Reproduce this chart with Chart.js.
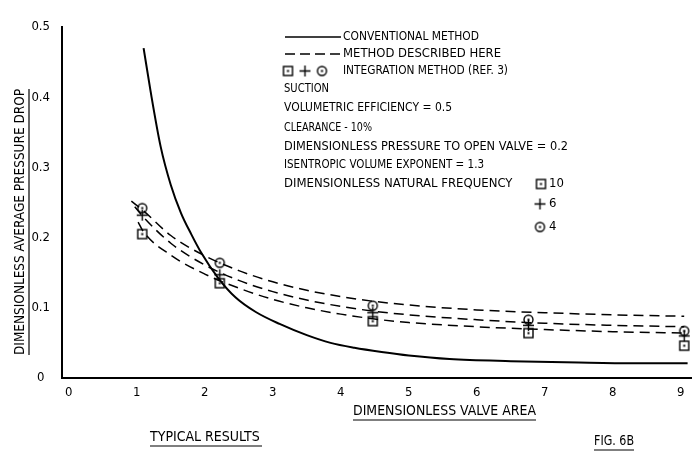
<!DOCTYPE html>
<html>
<head>
<meta charset="utf-8">
<script src="https://cdn.jsdelivr.net/npm/chart.js@4"></script>
<style>
  html, body { margin: 0; padding: 0; background: #fff; }
</style>
</head>
<body>
<canvas id="chart" width="698" height="462"></canvas>
<script>
// ------------------------
// Data
// ------------------------

const xTicks = [0, 1, 2, 3, 4, 5, 6, 7, 8, 9];
const yTicks = [0, 0.1, 0.2, 0.3, 0.4, 0.5];
const yTickLabels = ["0", "0.1", "0.2", "0.3", "0.4", "0.5"];

// conventional method (solid)
const convX = [1.10, 1.20, 1.35, 1.50, 1.65, 1.80, 1.95, 2.20, 2.45, 2.75, 3.10, 3.50, 3.85, 4.20, 4.60, 5.00, 5.60, 6.50, 7.50, 8.30, 9.10];
const convY = [0.470, 0.410, 0.330, 0.275, 0.235, 0.205, 0.178, 0.142, 0.115, 0.094, 0.077, 0.061, 0.050, 0.043, 0.037, 0.032, 0.027, 0.024, 0.022, 0.021, 0.021];

// method described here (dashed), one curve per natural frequency
const dashX4 = [0.92, 1.1, 1.5, 2, 2.5, 3, 3.5, 4, 4.5, 5, 6, 7, 8, 9.05];
const dashY4 = [0.252, 0.238, 0.203, 0.174, 0.153, 0.137, 0.125, 0.116, 0.109, 0.104, 0.097, 0.093, 0.090, 0.088];
const dashX6 = [0.97, 1.1, 1.5, 2, 2.5, 3, 3.5, 4, 4.5, 5, 6, 7, 8, 9.05];
const dashY6 = [0.244, 0.229, 0.192, 0.161, 0.139, 0.123, 0.111, 0.102, 0.095, 0.090, 0.083, 0.078, 0.075, 0.073];
const dashX10 = [1.02, 1.1, 1.5, 2, 2.5, 3, 3.5, 4, 4.5, 5, 6, 7, 8, 9.05];
const dashY10 = [0.222, 0.208, 0.175, 0.148, 0.128, 0.112, 0.100, 0.091, 0.084, 0.079, 0.073, 0.069, 0.066, 0.064];

// integration method (ref. 3) points
const markX = [1.08, 2.22, 4.47, 6.76, 9.05];
const mark10 = [0.205, 0.135, 0.081, 0.064, 0.046];
const mark6 = [0.232, 0.147, 0.093, 0.075, 0.060];
const mark4 = [0.242, 0.164, 0.103, 0.083, 0.067];

const legendNotes = [
    "SUCTION",
    "VOLUMETRIC EFFICIENCY = 0.5",
    "CLEARANCE - 10%",
    "DIMENSIONLESS PRESSURE TO OPEN VALVE = 0.2",
    "ISENTROPIC VOLUME EXPONENT = 1.3",
    "DIMENSIONLESS NATURAL FREQUENCY"
];
const freqLabels = ["10", "6", "4"];

const FONT = '"DejaVu Sans Condensed", "Liberation Sans Narrow", "DejaVu Sans", sans-serif';

const pts = (xs, ys) => xs.map((x, i) => ({ x: x, y: ys[i] }));

// ------------------------
// Marker glyphs
// ------------------------

function glyph(kind) {
    const c = document.createElement("canvas");
    c.width = 13;
    c.height = 13;
    const g = c.getContext("2d");
    g.strokeStyle = "#000";
    g.fillStyle = "#000";
    g.lineWidth = 1.4;
    if (kind === "square") {
        g.strokeRect(2, 2, 9, 9);
        g.fillRect(5.5, 5.5, 2, 2);
    } else if (kind === "circle") {
        g.beginPath();
        g.arc(6.5, 6.5, 4.5, 0, Math.PI * 2);
        g.stroke();
        g.fillRect(5.5, 5.5, 2, 2);
    } else {
        g.beginPath();
        g.moveTo(1, 6.5); g.lineTo(12, 6.5);
        g.moveTo(6.5, 1); g.lineTo(6.5, 12);
        g.stroke();
    }
    return c;
}

const sqGlyph = glyph("square");
const plusGlyph = glyph("plus");
const circGlyph = glyph("circle");

// ------------------------
// Annotation text
// ------------------------

const annotations = {
    id: "annotations",
    afterDraw(chart) {
        const ctx = chart.ctx;
        ctx.save();
        ctx.fillStyle = "#000";
        ctx.strokeStyle = "#000";
        ctx.textBaseline = "middle";
        ctx.textAlign = "left";
        ctx.font = "13px " + FONT;

        // legend line samples
        ctx.lineWidth = 1.6;
        ctx.beginPath();
        ctx.moveTo(285, 37); ctx.lineTo(341, 37);
        ctx.stroke();
        ctx.setLineDash([10, 5]);
        ctx.beginPath();
        ctx.moveTo(285, 54); ctx.lineTo(341, 54);
        ctx.stroke();
        ctx.setLineDash([]);

        ctx.fillText("CONVENTIONAL METHOD", 343, 37, 136);
        ctx.fillText("METHOD DESCRIBED HERE", 343, 54, 158);

        ctx.drawImage(sqGlyph, 288 - 6.5, 71 - 6.5);
        ctx.drawImage(plusGlyph, 305 - 6.5, 71 - 6.5);
        ctx.drawImage(circGlyph, 322 - 6.5, 71 - 6.5);
        ctx.fillText("INTEGRATION METHOD (REF. 3)", 343, 71, 165);

        const noteY = [89, 108, 128, 147, 165, 184];
        const noteW = [45, 168, 88, 284, 200, 243];
        legendNotes.forEach((t, i) => ctx.fillText(t, 284, noteY[i], noteW[i]));

        ctx.drawImage(sqGlyph, 541 - 6.5, 184 - 6.5);
        ctx.drawImage(plusGlyph, 540 - 6.5, 204 - 6.5);
        ctx.drawImage(circGlyph, 540 - 6.5, 227 - 6.5);
        ctx.fillText(freqLabels[0], 549, 184);
        ctx.fillText(freqLabels[1], 549, 204);
        ctx.fillText(freqLabels[2], 549, 227);

        // axis titles and captions, underlined
        ctx.lineWidth = 1.2;
        ctx.font = "14px " + FONT;

        ctx.save();
        ctx.translate(20, 222);
        ctx.rotate(-Math.PI / 2);
        ctx.textAlign = "center";
        ctx.fillText("DIMENSIONLESS AVERAGE PRESSURE DROP", 0, 0, 266);
        ctx.beginPath();
        ctx.moveTo(-133, 9); ctx.lineTo(133, 9);
        ctx.stroke();
        ctx.restore();

        const caption = (t, x0, x1, y) => {
            ctx.fillText(t, x0, y, x1 - x0);
            ctx.beginPath();
            ctx.moveTo(x0, y + 9); ctx.lineTo(x1, y + 9);
            ctx.stroke();
        };
        caption("DIMENSIONLESS VALVE AREA", 353, 536, 411);
        caption("TYPICAL RESULTS", 150, 262, 437);
        caption("FIG. 6B", 594, 634, 441);

        ctx.restore();
    }
};

// ------------------------
// Chart
// ------------------------

new Chart(document.getElementById("chart"), {

    type: "scatter",

    data: {

        datasets: [

            {
                label: "Conventional method",
                data: pts(convX, convY),
                showLine: true,
                borderColor: "#000",
                borderWidth: 2,
                pointRadius: 0,
                cubicInterpolationMode: "monotone"
            },

            {
                label: "Method described here (4)",
                data: pts(dashX4, dashY4),
                showLine: true,
                borderColor: "#000",
                borderWidth: 1.5,
                borderDash: [10, 6],
                pointRadius: 0,
                cubicInterpolationMode: "monotone"
            },

            {
                label: "Method described here (6)",
                data: pts(dashX6, dashY6),
                showLine: true,
                borderColor: "#000",
                borderWidth: 1.5,
                borderDash: [10, 6],
                pointRadius: 0,
                cubicInterpolationMode: "monotone"
            },

            {
                label: "Method described here (10)",
                data: pts(dashX10, dashY10),
                showLine: true,
                borderColor: "#000",
                borderWidth: 1.5,
                borderDash: [10, 6],
                pointRadius: 0,
                cubicInterpolationMode: "monotone"
            },

            {
                label: "Integration 10",
                data: pts(markX, mark10),
                pointStyle: sqGlyph,
                pointRadius: 6
            },

            {
                label: "Integration 6",
                data: pts(markX, mark6),
                pointStyle: plusGlyph,
                pointRadius: 6
            },

            {
                label: "Integration 4",
                data: pts(markX, mark4),
                pointStyle: circGlyph,
                pointRadius: 6
            }

        ]

    },

    options: {

        responsive: false,
        animation: false,
        devicePixelRatio: 1,

        layout: {
            padding: { left: 0, top: 27, right: 5, bottom: 0 }
        },

        plugins: {
            legend: { display: false },
            tooltip: { enabled: false }
        },

        scales: {

            x: {
                type: "linear",
                min: -0.1,
                max: 9.15,
                afterBuildTicks: axis => { axis.ticks = xTicks.map(v => ({ value: v })); },
                afterFit: axis => { axis.height = 84; },
                grid: { display: false, drawTicks: false },
                border: { display: true, color: "#000", width: 2 },
                ticks: {
                    color: "#000",
                    padding: 7,
                    maxRotation: 0,
                    autoSkip: false,
                    font: { family: FONT, size: 13 },
                    callback: v => String(v)
                }
            },

            y: {
                type: "linear",
                min: 0,
                max: 0.5,
                afterBuildTicks: axis => { axis.ticks = yTicks.map(v => ({ value: v })); },
                afterFit: axis => { axis.width = 62; },
                grid: { display: false, drawTicks: false },
                border: { display: true, color: "#000", width: 2 },
                ticks: {
                    color: "#000",
                    padding: 12,
                    crossAlign: "center",
                    autoSkip: false,
                    font: { family: FONT, size: 13 },
                    callback: v => yTickLabels[yTicks.indexOf(Math.round(v * 10) / 10)]
                }
            }

        }

    },

    plugins: [annotations]

});
</script>
</body>
</html>
